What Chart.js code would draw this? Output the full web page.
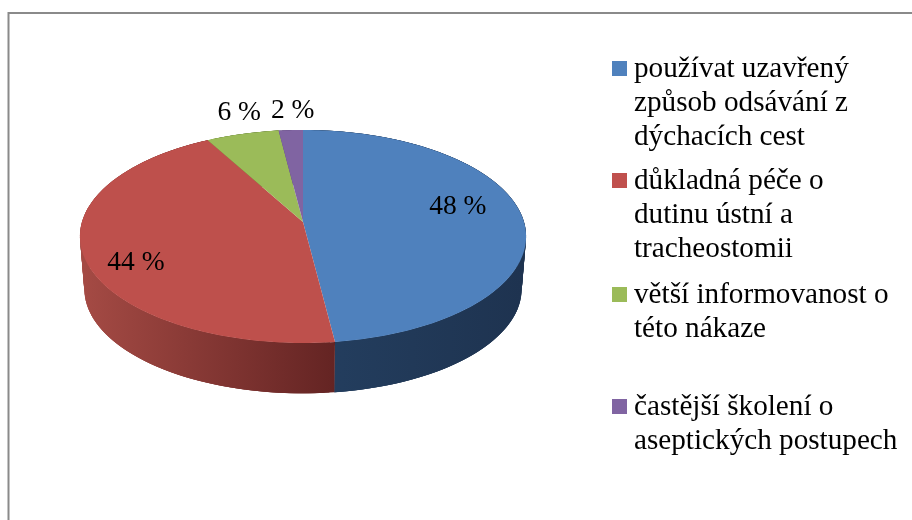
<!DOCTYPE html>
<html lang="cs">
<head>
<meta charset="utf-8">
<title>Graf</title>
<script src="https://cdn.jsdelivr.net/npm/chart.js@4"></script>
<style>
  html, body { margin: 0; padding: 0; background: #fff; }
  canvas { display: block; }
</style>
</head>
<body>
<canvas id="pieChart" width="912" height="520"></canvas>
<script>
const categories = [
  "používat uzavřený způsob odsávání z dýchacích cest",
  "důkladná péče o dutinu ústní a tracheostomii",
  "větší informovanost o této nákaze",
  "častější školení o aseptických postupech"
];
const legendLines = [
  ["používat uzavřený", "způsob odsávání z", "dýchacích cest"],
  ["důkladná péče o", "dutinu ústní a", "tracheostomii"],
  ["větší informovanost o", "této nákaze"],
  ["častější školení o", "aseptických postupech"]
];
const values = [48, 44, 6, 2];
const sliceColors = ["#4f81bd", "#be504c", "#9bbb59", "#8064a2"];
const swatchColors = ["#4f81bd", "#c0504d", "#9bbb59", "#8064a2"];
const wallColors = [
  ["#243f60", "#1e3350"],
  ["#a44a44", "#642423"],
  ["#6f8a3c", "#5a7030"],
  ["#5c4878", "#4a3a62"]
];

// perspective of the tilted pie
const TILT = 0.473;
const PERSP = -0.136;
const WALL_SCALE = 0.98;
const WALL_DROP = 52.8;

// label placement: radius factor along the slice middle, then a small nudge
const labelRadius = [0.72, 0.8, 1.1, 1.1];
const labelNudge = [[-3, -11], [7, 14], [2, -13], [3, -11]];

// legend placement
const legendX = 612;
const legendTextX = 634;
const legendSwatch = 15;
const legendLine = 34;
const legendBaselines = [77, 189, 303, 415];

function project(el, angle, r) {
  const u = r * Math.cos(angle);
  const v = r * Math.sin(angle);
  const w = 1 + PERSP * v;
  return {
    x: el.x + el.outerRadius * u / w,
    y: el.y + el.outerRadius * TILT * v / w
  };
}

function lower(el, p) {
  return {
    x: el.x + (p.x - el.x) * WALL_SCALE,
    y: el.y + (p.y - el.y) * WALL_SCALE + WALL_DROP
  };
}

function rimPoints(el) {
  const steps = Math.max(2, Math.ceil((el.endAngle - el.startAngle) / 0.02));
  const pts = [];
  for (let i = 0; i <= steps; i++) {
    const a = el.startAngle + (el.endAngle - el.startAngle) * i / steps;
    pts.push(project(el, a, 1));
  }
  return pts;
}

const tiltedPie = {
  id: "tiltedPie",
  beforeDatasetsDraw(chart) {
    const ctx = chart.ctx;
    const arcs = chart.getDatasetMeta(0).data;

    // side wall first, the top face covers whatever is behind
    arcs.forEach((el, i) => {
      const top = rimPoints(el);
      const bottom = top.map((p) => lower(el, p));
      const xs = bottom.map((p) => p.x);
      const grad = ctx.createLinearGradient(Math.min(...xs), 0, Math.max(...xs), 0);
      grad.addColorStop(0, wallColors[i][0]);
      grad.addColorStop(1, wallColors[i][1]);
      ctx.fillStyle = grad;
      // overlapping quads, the rims cross near the sides so a single outline leaves gaps
      for (let n = 0; n < top.length - 1; n++) {
        const m = Math.min(n + 3, top.length - 1);
        ctx.beginPath();
        ctx.moveTo(top[n].x, top[n].y);
        ctx.lineTo(top[m].x, top[m].y);
        ctx.lineTo(bottom[m].x, bottom[m].y);
        ctx.lineTo(bottom[n].x, bottom[n].y);
        ctx.closePath();
        ctx.fill();
      }
    });

    arcs.forEach((el, i) => {
      ctx.beginPath();
      ctx.moveTo(el.x, el.y);
      rimPoints(el).forEach((p) => ctx.lineTo(p.x, p.y));
      ctx.closePath();
      ctx.fillStyle = sliceColors[i];
      ctx.fill();
    });
    return false;
  },
  afterDraw(chart) {
    const ctx = chart.ctx;
    const arcs = chart.getDatasetMeta(0).data;

    ctx.save();
    ctx.fillStyle = "#000";
    ctx.font = "27.5px 'Liberation Serif', serif";
    ctx.textAlign = "center";
    ctx.textBaseline = "middle";
    arcs.forEach((el, i) => {
      const mid = (el.startAngle + el.endAngle) / 2;
      const p = project(el, mid, labelRadius[i]);
      ctx.fillText(values[i] + " %", p.x + labelNudge[i][0], p.y + labelNudge[i][1]);
    });

    ctx.font = "29.2px 'Liberation Serif', serif";
    ctx.textAlign = "left";
    ctx.textBaseline = "alphabetic";
    legendLines.forEach((lines, i) => {
      ctx.fillStyle = swatchColors[i];
      ctx.fillRect(legendX, legendBaselines[i] - legendSwatch - 1, legendSwatch, legendSwatch);
      ctx.fillStyle = "#000";
      lines.forEach((line, n) => {
        ctx.fillText(line, legendTextX, legendBaselines[i] + n * legendLine);
      });
    });
    ctx.restore();
  },
  beforeDraw(chart) {
    // frame of the embedded chart, cut off at the right and the bottom
    const ctx = chart.ctx;
    ctx.save();
    ctx.fillStyle = "#fff";
    ctx.fillRect(0, 0, chart.width, chart.height);
    ctx.strokeStyle = "#8a8a8a";
    ctx.lineWidth = 2;
    ctx.beginPath();
    ctx.moveTo(8.5, chart.height);
    ctx.lineTo(8.5, 13);
    ctx.lineTo(chart.width, 13);
    ctx.stroke();
    ctx.restore();
  }
};

new Chart(document.getElementById("pieChart"), {
  type: "pie",
  data: {
    labels: categories,
    datasets: [{ data: values, backgroundColor: sliceColors, borderWidth: 0 }]
  },
  options: {
    responsive: false,
    animation: false,
    layout: { padding: { left: 82, top: 1, right: 388, bottom: 77 } },
    plugins: {
      legend: { display: false },
      tooltip: { enabled: false }
    }
  },
  plugins: [tiltedPie]
});
</script>
</body>
</html>
